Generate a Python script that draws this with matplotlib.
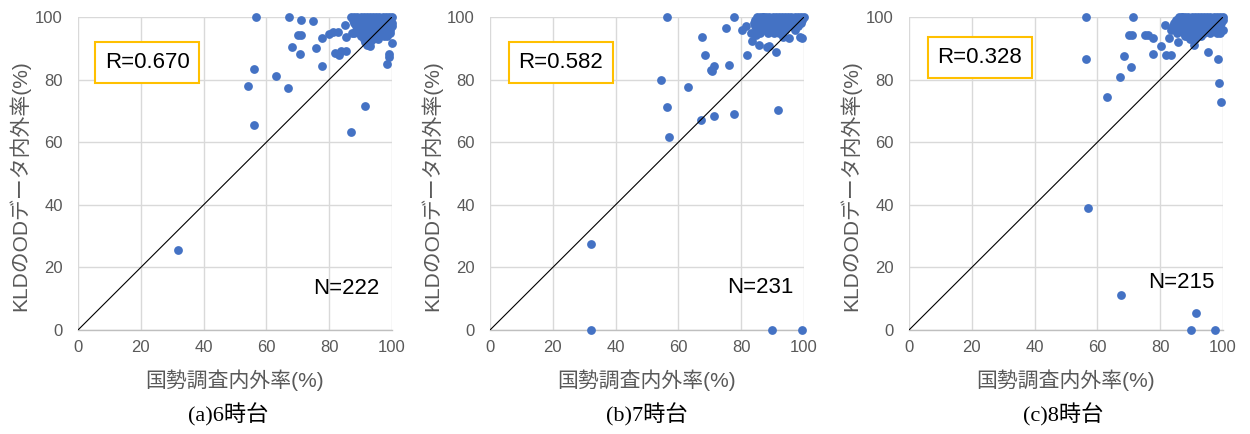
import matplotlib
matplotlib.use("Agg")
import matplotlib.pyplot as plt

# ---------------- data (percent) ----------------
census_6h = [31.9, 54.0, 56.2, 56.0, 56.8, 62.9, 67.0, 67.3, 68.2, 70.0, 71.1, 70.6, 71.1, 74.9,
             75.7, 77.6, 77.6, 80.0, 81.2, 81.7, 83.2, 83.7, 85.5, 82.8, 85.2, 84.9, 87.1, 91.5,
             93.1, 98.4, 98.9, 99.0, 100, 97.9, 87.8, 87.2, 92.8, 99.5, 100, 98.5,
             87, 88, 89, 90, 91, 92, 93, 94, 95, 96, 97, 98, 99, 100,
             87.5, 89, 90.5, 92, 93.5, 95, 96.5, 98, 99.5,
             88, 89.5, 91, 92.5, 94, 95.5, 97, 98.5, 100,
             88.5, 90, 91.5, 93, 94.5, 96, 97.5, 99,
             89, 90.5, 92, 93.5, 95, 96.5, 98, 99.5,
             89.5, 91, 92.5, 94, 95.5, 97, 98.5,
             90, 91.5, 93, 94.5, 96, 97.5,
             91, 92.5, 94, 95.5,
             91.5, 93, 92]
kld_6h = [25.6, 78.0, 83.5, 65.6, 100, 81.1, 77.3, 100, 90.3, 94.3, 94.3, 88.2, 99.1, 98.7,
          90.0, 93.3, 84.5, 94.7, 95.2, 88.4, 88.0, 89.1, 89.1, 95.1, 93.5, 97.3, 63.1, 71.6,
          90.8, 85.0, 87.1, 88.2, 91.7, 94.3, 94.9, 94.9, 90.9, 95.0, 97.0, 94.0,
          100, 100, 100, 100, 100, 100, 100, 100, 100, 100, 100, 100, 100, 100,
          99, 99, 99, 99, 99, 99, 99, 99, 99,
          98, 98, 98, 98, 98, 98, 98, 98, 98,
          97, 97, 97, 97, 97, 97, 97, 97,
          96, 96, 96, 96, 96, 96, 96, 96,
          95, 95, 95, 95, 95, 95, 95,
          94, 94, 94, 94, 94, 94,
          93, 93, 93, 93,
          92, 92, 91]

census_7h = [32.2, 32.2, 89.7, 99.5, 56.5, 77.8, 67.4, 75.2, 68.5, 71.3, 70.6, 70.3, 76.0, 82.0,
             54.5, 63.1, 56.3, 67.3, 71.3, 77.8, 91.7, 57.0, 80.4, 81.6, 83.1, 83.3, 85.8, 88.1,
             89.0, 91.0, 84.7, 84.9, 86.8, 93.4, 95.3, 98.8, 99.5, 90.2,
             85, 86, 87, 88, 89, 90, 91, 92, 93, 94, 95, 96, 97, 98, 99, 100,
             84.5, 86, 87.5, 89, 90.5, 92, 93.5, 95, 96.5, 98, 99.5,
             84, 85.5, 87, 88.5, 90, 91.5, 93, 94.5, 96, 97.5, 99,
             84.5, 86, 87.5, 89, 90.5, 92, 93.5, 95, 96.5, 98,
             85, 86.5, 88, 89.5, 91, 92.5, 94, 97,
             84, 86, 88.5, 90.5, 92]
kld_7h = [27.5, 0, 0, 0, 100, 100, 93.5, 96.4, 88.0, 84.2, 82.7, 83.2, 84.7, 88.0,
          79.8, 77.7, 71.2, 67.0, 68.5, 68.9, 70.3, 61.7, 95.7, 97.1, 95.0, 92.3, 91.1, 90.5,
          90.8, 88.8, 94.4, 97.9, 100, 93.6, 93.3, 93.6, 93.3, 95.5,
          100, 100, 100, 100, 100, 100, 100, 100, 100, 100, 100, 100, 100, 100, 100, 100,
          99, 99, 99, 99, 99, 99, 99, 99, 99, 99, 99,
          98, 98, 98, 98, 98, 98, 98, 98, 98, 98, 98,
          97, 97, 97, 97, 97, 97, 97, 97, 97, 97,
          96, 96, 96, 96, 96, 96, 96, 96,
          95, 95, 95, 95, 95]

census_8h = [56.5, 56.3, 71.3, 70.1, 71.1, 68.5, 70.8, 67.2, 63.1, 75.3, 76.2, 77.8, 81.5, 80.3,
             77.8, 81.8, 83.3, 82.9, 85.8, 86.8, 95.1, 98.3, 98.7, 99.4, 90.9, 88.4, 99.0,
             57.0, 67.5, 91.3, 89.7, 97.4,
             86, 87, 88, 89, 90, 91, 92, 93, 94, 95, 96, 97, 98, 99, 100,
             85, 86.5, 88, 89.5, 91, 92.5, 94, 95.5, 97, 98.5, 100,
             84.5, 86, 87.5, 89, 90.5, 92, 93.5, 95, 96.5, 98, 99.5,
             84, 85.5, 87, 88.5, 90, 91.5, 93, 94.5, 96, 97.5, 99,
             83.5, 85, 86.5, 88, 89.5, 91, 92.5, 94, 95.5, 97, 98.5, 100,
             85.5, 87.5, 89, 90.5, 92, 94, 96, 98,
             88, 90, 91.5, 93,
             89.5, 91]
kld_8h = [100, 86.5, 100, 94.2, 94.2, 87.6, 84.0, 80.8, 74.5, 94.3, 94.2, 93.3, 97.4, 90.6,
          88.2, 87.9, 87.9, 93.3, 92.1, 100, 88.7, 86.6, 79.0, 72.9, 91.1, 93.9, 95.0,
          38.9, 11.2, 5.3, 0, 0,
          100, 100, 100, 100, 100, 100, 100, 100, 100, 100, 100, 100, 100, 100, 100,
          99, 99, 99, 99, 99, 99, 99, 99, 99, 99, 99,
          98, 98, 98, 98, 98, 98, 98, 98, 98, 98, 98,
          97, 97, 97, 97, 97, 97, 97, 97, 97, 97, 97,
          96, 96, 96, 96, 96, 96, 96, 96, 96, 96, 96, 96,
          95, 95, 95, 95, 95, 95, 95, 95,
          94, 94, 94, 94,
          93, 93]

r_labels = ["R=0.670", "R=0.582", "R=0.328"]
n_labels = ["N=222", "N=231", "N=215"]
captions = ["(a)6時台", "(b)7時台", "(c)8時台"]
ticks = [0, 20, 40, 60, 80, 100]
x_label = "国勢調査内外率(%)"
y_label = "KLDのODデータ内外率(%)"

# ---------------- styling ----------------
SANS = ["Liberation Sans", "Noto Sans CJK JP"]
SERIF = ["Liberation Serif", "Noto Sans CJK JP"]
BLUE = "#4472C4"
GRAY_TXT = "#595959"
GRID = "#D9D9D9"

fig = plt.figure(figsize=(12.5, 4.34), dpi=100)

lefts_px = [78, 490, 909]
caption_x_px = [228, 647, 1063]
r_pos = [(0.22, 0.856), (0.226, 0.856), (0.226, 0.87)]
n_pos = [(0.854, 0.134), (0.86, 0.137), (0.866, 0.153)]
series = [(census_6h, kld_6h), (census_7h, kld_7h), (census_8h, kld_8h)]

W, H = 1250, 434
for i, (xs, ys) in enumerate(series):
    ax = fig.add_axes([lefts_px[i] / W, (H - 330) / H, 314 / W, 313 / H])
    ax.set_xlim(0, 100)
    ax.set_ylim(0, 100)
    ax.set_xticks(ticks)
    ax.set_yticks(ticks)
    ax.grid(True, color=GRID, linewidth=1.0)
    ax.set_axisbelow(True)
    for s in ["top", "right", "left"]:
        ax.spines[s].set_visible(False)
    ax.spines["bottom"].set_color("#BFBFBF")
    ax.spines["bottom"].set_linewidth(1.0)
    ax.tick_params(axis="both", length=0, labelsize=12, labelcolor=GRAY_TXT)
    ax.tick_params(axis="x", pad=7)
    ax.tick_params(axis="y", pad=11)
    for lab in ax.get_xticklabels() + ax.get_yticklabels():
        lab.set_family(SANS)

    ax.scatter(xs, ys, s=40, color=BLUE, linewidths=0, clip_on=False, zorder=3)
    ax.plot([0, 100], [0, 100], color="black", linewidth=0.8, zorder=4)

    ax.set_xlabel(x_label, fontsize=15, color=GRAY_TXT, family=SANS)
    ax.xaxis.label.set_va("center")
    ax.xaxis.set_label_coords(0.5, -0.16)
    ax.set_ylabel(y_label, fontsize=15, color=GRAY_TXT, family=SANS)
    ax.yaxis.label.set_va("center")
    ax.yaxis.set_label_coords(-0.185, 0.46)

    ax.text(r_pos[i][0], r_pos[i][1], r_labels[i], transform=ax.transAxes,
            ha="center", va="center", fontsize=16, family=SANS, color="black",
            bbox=dict(boxstyle="square,pad=0.45", facecolor="white",
                      edgecolor="#FFC000", linewidth=1.5), zorder=5)
    ax.text(n_pos[i][0], n_pos[i][1], n_labels[i], transform=ax.transAxes,
            ha="center", va="center", fontsize=16, family=SANS, color="black", zorder=5)

    fig.text(caption_x_px[i] / W, 1 - 415 / H, captions[i], ha="center", va="center",
             fontsize=16, family=SERIF, color="black")

fig.savefig("out.png", dpi=100)
